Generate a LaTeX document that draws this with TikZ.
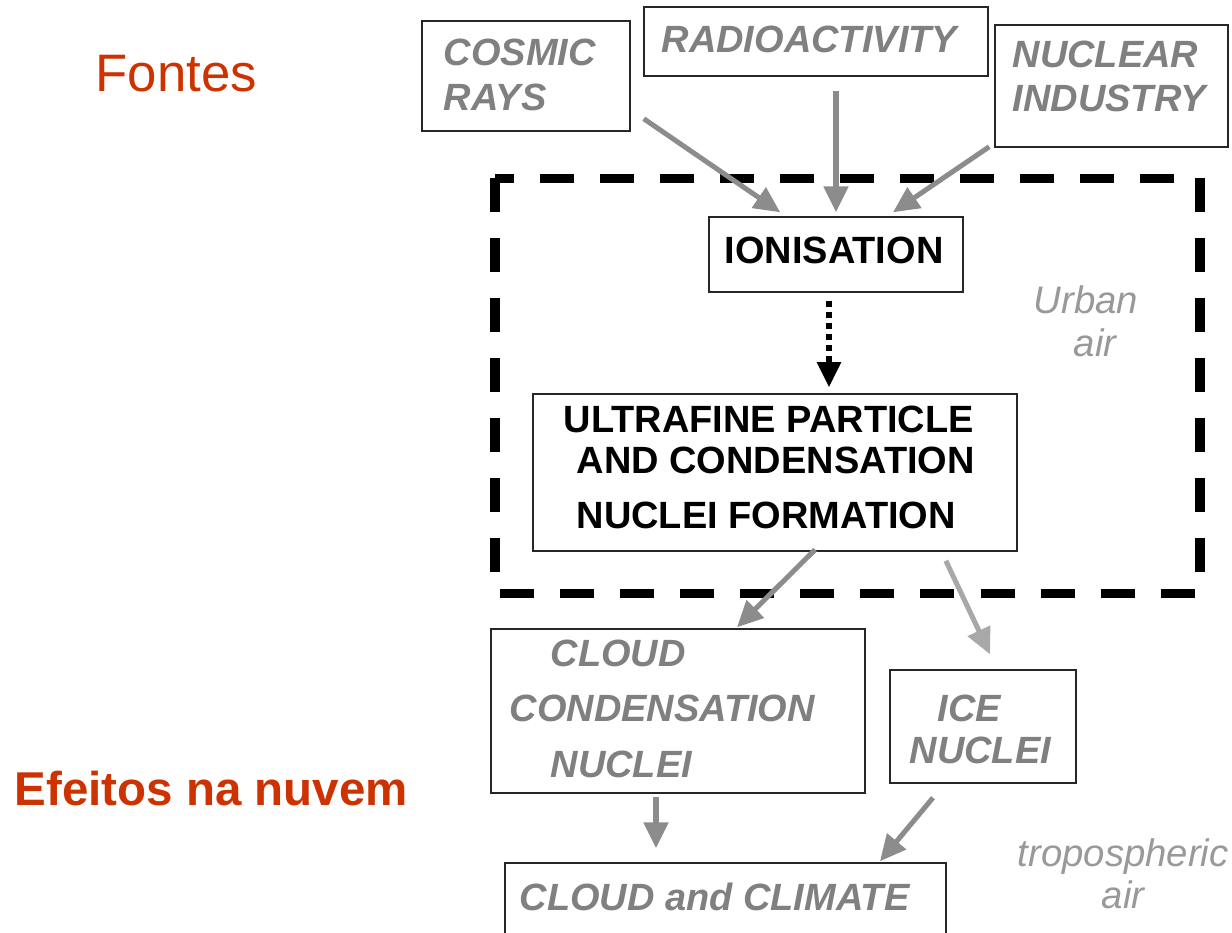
\documentclass[tikz,border=0pt]{standalone}
\usepackage{fontspec}
\setmainfont{Liberation Sans}
\usetikzlibrary{arrows.meta,calc}
\definecolor{titlered}{HTML}{CC3300}
\definecolor{labelgray}{HTML}{808080}
\definecolor{arrowgray}{HTML}{8C8C8C}
\definecolor{palearrow}{HTML}{A8A8A8}
\definecolor{airgray}{HTML}{999999}
\tikzset{
  box/.style={draw=black!85, line width=0.014cm, inner sep=0pt},
  graytext/.style={anchor=base west, inner sep=0pt, text=labelgray,
    font=\fontsize{10.8}{13}\selectfont\bfseries\itshape},
  blacktext/.style={anchor=base west, inner sep=0pt,
    font=\fontsize{10.8}{13}\selectfont\bfseries},
  airtext/.style={anchor=base west, inner sep=0pt, text=airgray,
    font=\fontsize{10.9}{13}\selectfont\itshape},
  grayarrow/.style={draw=arrowgray, line width=0.05cm,
    -{Triangle[length=0.26cm,width=0.24cm]}},
}
\begin{document}
\begin{tikzpicture}[x=0.01cm,y=-0.01cm]
\clip (0,0) rectangle (1232,933);
\fill[white] (0,0) rectangle (1232,933);

% titles
\node[anchor=base west, inner sep=0pt, text=titlered, font=\fontsize{15}{18}\selectfont] (fontes) at (95,91) {Fontes};
\node[anchor=base west, inner sep=0pt, text=titlered, font=\fontsize{13.5}{16}\selectfont\bfseries] (efeitos) at (14,805) {Efeitos na nuvem};

% boxes
\node[box, minimum width=2.08cm, minimum height=1.10cm] (cosmic) at (526,76) {};
\node[box, minimum width=3.44cm, minimum height=0.69cm] (radio) at (816,41.5) {};
\node[box, minimum width=2.33cm, minimum height=1.22cm] (nuclear) at (1111.5,86) {};
\node[box, minimum width=2.54cm, minimum height=0.75cm] (ionis) at (836,254.5) {};
\node[box, minimum width=4.84cm, minimum height=1.57cm] (ultra) at (775,472.5) {};
\node[box, minimum width=3.74cm, minimum height=1.64cm] (ccn) at (678,711) {};
\node[box, minimum width=1.86cm, minimum height=1.13cm] (ice) at (983,726.5) {};
\node[box, minimum width=4.41cm, minimum height=0.82cm] (climate) at (725.5,904) {};

% urban air frame
\draw[line width=0.09cm, dash pattern=on 0.34cm off 0.26cm] (495,178) rectangle (1200,593);

% texts
\node[graytext] (cosmic1) at (443,65) {COSMIC};
\node[graytext] (cosmic2) at (443,110) {RAYS};
\node[graytext] (radio1) at (661,52) {RADIOACTIVITY};
\node[graytext] (nuclear1) at (1012,67) {NUCLEAR};
\node[graytext] (nuclear2) at (1012,111) {INDUSTRY};
\node[blacktext] (ionis1) at (724,263) {IONISATION};
\node[blacktext] (ultra1) at (563,432) {ULTRAFINE PARTICLE};
\node[blacktext] (ultra2) at (576,473) {AND CONDENSATION};
\node[blacktext] (ultra3) at (576,528) {NUCLEI FORMATION};
\node[graytext] (ccn1) at (550,666) {CLOUD};
\node[graytext] (ccn2) at (509,721) {CONDENSATION};
\node[graytext] (ccn3) at (550,777) {NUCLEI};
\node[graytext] (ice1) at (937,721) {ICE};
\node[graytext] (ice2) at (909,763) {NUCLEI};
\node[graytext] (climate1) at (519,910) {CLOUD and CLIMATE};
\node[airtext] (urban1) at (1033,313) {Urban};
\node[airtext] (urban2) at (1073,356) {air};
\node[airtext] (tropo1) at (1017,866) {tropospheric};
\node[airtext] (tropo2) at (1101,908) {air};

% arrows
\draw[grayarrow] ($(cosmic.south east)+(13,-13)$) -- ($(ionis.north west)+(72,-4)$);
\draw[grayarrow] ($(radio.south)+(20,14)$) -- ($(ionis.north)+(0,-4)$);
\draw[grayarrow] ($(nuclear.south west)+(-5,-1)$) -- ($(ionis.north)+(57,-4)$);
\draw[line width=0.05cm, dash pattern=on 0.06cm off 0.05cm,
  -{Triangle[length=0.25cm,width=0.23cm]}] ($(ionis.south)+(-7,8)$) -- ($(ultra.north)+(54,-6)$);
\draw[grayarrow] ($(ultra.south)+(40,-2)$) -- ($(ccn.north)+(59,-1)$);
\draw[grayarrow, draw=palearrow] ($(ultra.south east)+(-72,9)$) -- ($(ice.north)+(7,-15)$);
\draw[grayarrow] ($(ccn.south)+(-22,3)$) -- ($(climate.north)+(-69.5,-14)$);
\draw[grayarrow] ($(ice.south)+(-50,14)$) -- ($(climate.north)+(154.5,-1)$);
\end{tikzpicture}
\end{document}
